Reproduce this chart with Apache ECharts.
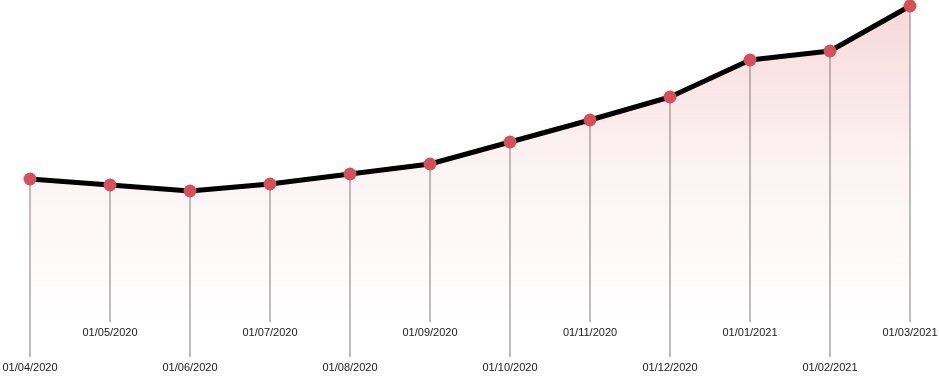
<!DOCTYPE html>
<html>
<head>
<meta charset="utf-8">
<style>html,body{margin:0;padding:0;background:#fff;}#c{width:939px;height:387px;}</style>
<script src="https://cdn.jsdelivr.net/npm/echarts@6/dist/echarts.min.js"></script>
</head>
<body>
<div id="c"></div>
<script>
const categories = ['01/04/2020','01/05/2020','01/06/2020','01/07/2020','01/08/2020','01/09/2020','01/10/2020','01/11/2020','01/12/2020','01/01/2021','01/02/2021','01/03/2021'];
const values = [144, 138, 132, 139, 149, 159, 181, 203, 226, 263, 272, 317];

const chart = echarts.init(document.getElementById('c'));
chart.setOption({
  animation: false,
  grid: { left: 30, right: 29, top: 6, bottom: 64 },
  xAxis: { type: 'category', data: categories, boundaryGap: false, show: false },
  yAxis: { type: 'value', min: 0, max: 317, show: false },
  series: [
    {
      type: 'custom',
      clip: false,
      z: 1,
      data: values.map((v, i) => [i, v]),
      encode: { x: 0, y: 1 },
      renderItem: function (params, api) {
        const i = api.value(0);
        const top = api.coord([i, api.value(1)]);
        const base = api.coord([i, 0]);
        const low = i % 2 === 0;
        const endY = low ? base[1] + 34 : base[1] - 1;
        const labelY = low ? base[1] + 45 : base[1] + 10;
        return {
          type: 'group',
          children: [
            { type: 'line', shape: { x1: top[0], y1: top[1], x2: top[0], y2: endY },
              style: { stroke: '#a8a8a8', lineWidth: 1.5 } },
            { type: 'text', x: top[0], y: labelY,
              style: { text: categories[i], fill: '#1a1a1a', font: '11px "Liberation Sans"', align: 'center', verticalAlign: 'middle' } }
          ]
        };
      }
    },
    {
      type: 'line',
      z: 3,
      data: values,
      symbol: 'circle',
      symbolSize: 13,
      itemStyle: { color: '#d4505d', borderWidth: 0 },
      lineStyle: { color: '#000', width: 5 },
      areaStyle: {
        color: new echarts.graphic.LinearGradient(0, 0, 0, 1, [
          { offset: 0, color: 'rgba(215,85,85,0.32)' },
          { offset: 0.5, color: 'rgba(215,85,85,0.1)' },
          { offset: 1, color: 'rgba(215,85,85,0.0)' }
        ])
      }
    }
  ]
});
</script>
</body>
</html>
